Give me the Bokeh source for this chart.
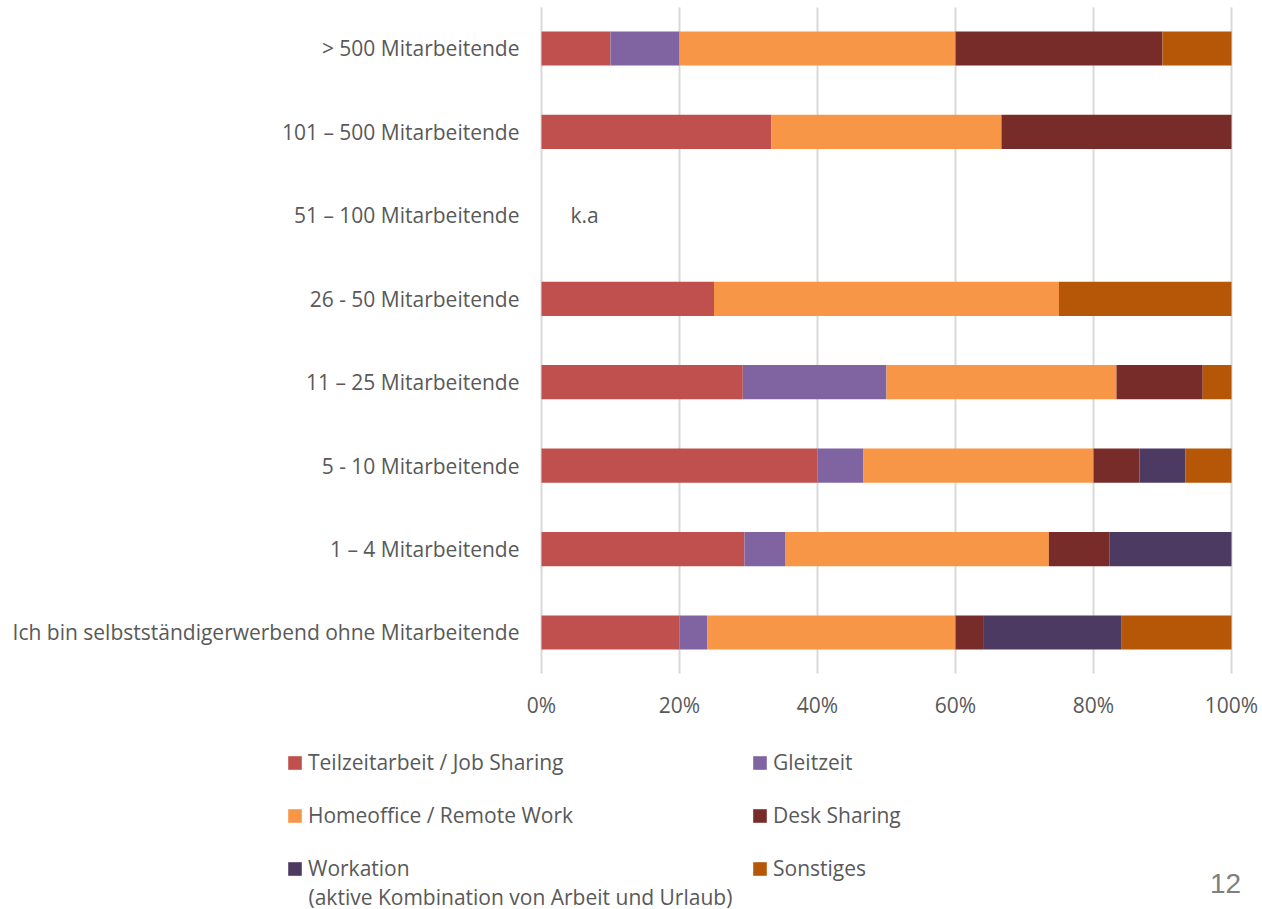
from bokeh.plotting import figure
from bokeh.models import (Range1d, FixedTicker, PrintfTickFormatter, LinearAxis, Grid,
                          Legend, LegendItem, Label, ColumnDataSource)
from bokeh.core.properties import value
from bokeh.embed import file_html
from bokeh.resources import INLINE

# ---------------- data ----------------
categories = [
    "> 500 Mitarbeitende",
    "101 – 500 Mitarbeitende",
    "51 – 100 Mitarbeitende",
    "26 - 50 Mitarbeitende",
    "11 – 25 Mitarbeitende",
    "5 - 10 Mitarbeitende",
    "1 – 4 Mitarbeitende",
    "Ich bin selbstständigerwerbend ohne Mitarbeitende",
]
series_names = [
    "Teilzeitarbeit / Job Sharing",
    "Gleitzeit",
    "Homeoffice / Remote Work",
    "Desk Sharing",
    "Workation",
    "Sonstiges",
]
workation_note = "(aktive Kombination von Arbeit und Urlaub)"
teilzeit   = [10.0, 33.33, 0, 25.0, 29.17, 40.0, 29.41, 20.0]
gleitzeit  = [10.0, 0.0,   0,  0.0, 20.83,  6.67,  5.88,  4.0]
homeoffice = [40.0, 33.33, 0, 50.0, 33.33, 33.33, 38.24, 36.0]
desk       = [30.0, 33.34, 0,  0.0, 12.50,  6.67,  8.82,  4.0]
workation  = [ 0.0, 0.0,   0,  0.0,  0.0,   6.67, 17.65, 20.0]
sonstiges  = [10.0, 0.0,   0, 25.0,  4.17,  6.66,  0.0,  16.0]
colors = ["#C0504D", "#8064A2", "#F79646", "#772C2A", "#4D3A62", "#B65708"]

tick_values = [0, 20, 40, 60, 80, 100]
na_category = "51 – 100 Mitarbeitende"
na_text = "k.a"
na_x = 4.2
page_number = "12"

n = len(categories)
ypos = [n - 1 - i for i in range(n)]          # top category highest
keys = ["teilzeit", "gleitzeit", "homeoffice", "desk", "workation", "sonstiges"]
source = ColumnDataSource(dict(y=ypos, teilzeit=teilzeit, gleitzeit=gleitzeit,
                               homeoffice=homeoffice, desk=desk, workation=workation,
                               sonstiges=sonstiges))

TXT = "#595959"
FONT = "Open Sans"
FS = "21px"

W, H = 1262, 909
p = figure(width=W, height=H, output_backend="svg", toolbar_location=None,
           x_range=Range1d(-78.406, 104.493), y_range=Range1d(-3.3202, 7.5753),
           x_axis_location=None, y_axis_location=None,
           min_border_left=0, min_border_right=0, min_border_top=0,
           min_border_bottom=0)
p.outline_line_color = None
p.background_fill_color = "white"
p.border_fill_color = "white"
# drop default grids
p.center = [r for r in p.center if not isinstance(r, Grid)]

# grid (vertical lines only over the bar area)
xgrid = Grid(dimension=0, ticker=FixedTicker(ticks=tick_values),
             grid_line_color="#D9D9D9", grid_line_width=2,
             bounds=(0, 100), cross_bounds=(-0.49, 7.49))
p.add_layout(xgrid)

renderers = p.hbar_stack(keys, y="y", height=0.41, color=colors, source=source,
                         line_color=None)

p.text(x=[na_x], y=[ypos[categories.index(na_category)]], text=[na_text],
       text_font=value(FONT), text_font_size=FS, text_color=TXT,
       text_align="left", text_baseline="middle")

# axes
xaxis = LinearAxis(fixed_location=-0.49, ticker=FixedTicker(ticks=tick_values),
                   formatter=PrintfTickFormatter(format="%d%%"), bounds=(0, 100))
yaxis = LinearAxis(fixed_location=0, ticker=FixedTicker(ticks=ypos),
                   major_label_overrides={y: c for y, c in zip(ypos, categories)},
                   bounds=(-0.49, 7.49))
for ax in (xaxis, yaxis):
    ax.axis_line_color = None
    ax.major_tick_line_color = None
    ax.minor_tick_line_color = None
    ax.major_tick_out = 0
    ax.major_tick_in = 0
    ax.major_label_text_font = FONT
    ax.major_label_text_font_size = FS
    ax.major_label_text_color = TXT
xaxis.major_label_standoff = 18
yaxis.major_label_standoff = 22
p.add_layout(xaxis, "below")
p.add_layout(yaxis, "left")

items = [LegendItem(label=s, renderers=[r]) for s, r in zip(series_names, renderers)]
legend = Legend(items=items, location=(286, 27), orientation="horizontal", ncols=2,
                glyph_width=17, glyph_height=17, label_standoff=5,
                label_width=418, spacing=25, padding=0, margin=0,
                label_text_font=FONT, label_text_font_size=FS,
                label_text_color=TXT, border_line_color=None,
                background_fill_alpha=0)
p.add_layout(legend, "center")

p.add_layout(Label(x=308, y=H - 896, x_units="screen", y_units="screen",
                   text=workation_note, text_font=FONT, text_font_size=FS,
                   text_color=TXT, text_align="left", text_baseline="middle"))

p.add_layout(Label(x=1225, y=H - 883, x_units="screen", y_units="screen",
                   text=page_number, text_font="Liberation Sans",
                   text_font_size="28px", text_color="#7F7F7F",
                   text_align="center", text_baseline="middle"))

open("out.html", "w").write(file_html(p, INLINE))
